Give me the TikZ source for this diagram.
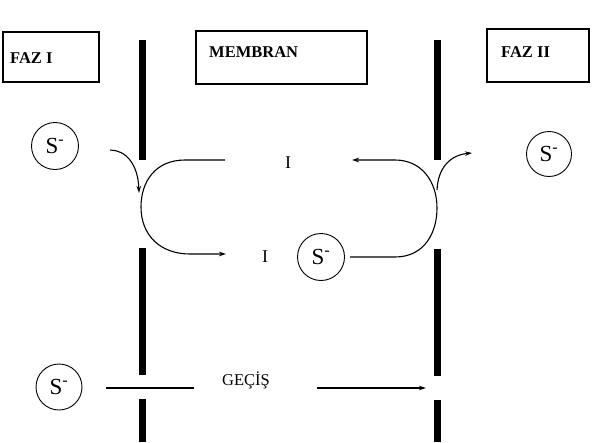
\documentclass[tikz,border=0pt]{standalone}
\usepackage{fontspec}
\setmainfont{Liberation Serif}
\usetikzlibrary{arrows.meta}
\begin{document}
\begin{tikzpicture}[x=1pt,y=-1pt,
  membar/.style={line width=7pt,black},
  labelbox/.style={draw,line width=1.2pt,inner sep=0pt},
  boxtext/.style={font=\fontsize{16.5}{16.5}\selectfont\bfseries,anchor=west,inner sep=0pt},
  ion/.style={draw,circle,line width=0.9pt,minimum size=47pt,inner sep=0pt,font=\fontsize{23}{23}\selectfont},
  carrier/.style={font=\fontsize{18}{18}\selectfont},
  flow/.style={line width=1.1pt},
  tip/.style={-{Stealth[length=7pt,width=4.5pt]}}
]
\useasboundingbox (0,0) rectangle (594,442);
% boxes
\draw[labelbox] (3,32) rectangle (99,82);
\node[boxtext] (faz1) at (10,58) {FAZ I};
\draw[labelbox] (196,31) rectangle (367,84);
\node[boxtext] (membran) at (209,52) {MEMBRAN};
\draw[labelbox] (487,29) rectangle (589,82);
\node[boxtext] (faz2) at (501,52) {FAZ II};
% membrane walls
\draw[membar] (142,40) -- (142,160);
\draw[membar] (142,248) -- (142,375);
\draw[membar] (142,399) -- (142,442);
\draw[membar] (437,40) -- (437,160);
\draw[membar] (437,249) -- (437,376);
\draw[membar] (437,400) -- (437,442);
% ions
\node[ion] (s1) at (55,146) {S\textsuperscript{-}};
\node[ion,minimum size=45pt] (s2) at (549,154) {S\textsuperscript{-}};
\node[ion] (s3) at (321,257) {S\textsuperscript{-}};
\node[ion,minimum size=46pt] (s4) at (59,387) {S\textsuperscript{-}};
% carriers
\node[carrier] (i1) at (288,163) {I};
\node[carrier] (i2) at (265,257) {I};
\node[font=\fontsize{16.5}{16.5}\selectfont] (gecis) at (246,380) {GEÇİŞ};
% coordinates
\coordinate (a1) at (110,150);
\coordinate (a2) at (139,193);
\coordinate (c1s) at (225,160);
\coordinate (c1e) at (226,254);
\coordinate (c2s) at (350,257);
\coordinate (c2e) at (352,160);
\coordinate (b1) at (437,190);
\coordinate (b2) at (472,153);
\coordinate (g1) at (106,388);
\coordinate (g2) at (194,388);
\coordinate (g3) at (317,388);
\coordinate (g4) at (426,388);
% flows
\draw[flow,tip] (a1) .. controls (125,150) and (138,163) .. (a2);
\draw[flow,tip] (c1s) -- (185,160) .. controls (155,160) and (141,182) .. (141,207)
   .. controls (141,235) and (160,254) .. (190,254) -- (c1e);
\draw[flow,tip] (c2s) -- (395,257) .. controls (425,257) and (437,232) .. (437,208)
   .. controls (437,182) and (422,160) .. (395,160) -- (c2e);
\draw[flow,tip] (b1) .. controls (438,168) and (450,155) .. (b2);
\draw[flow] (g1) -- (g2);
\draw[flow,tip] (g3) -- (g4);
\end{tikzpicture}
\end{document}
